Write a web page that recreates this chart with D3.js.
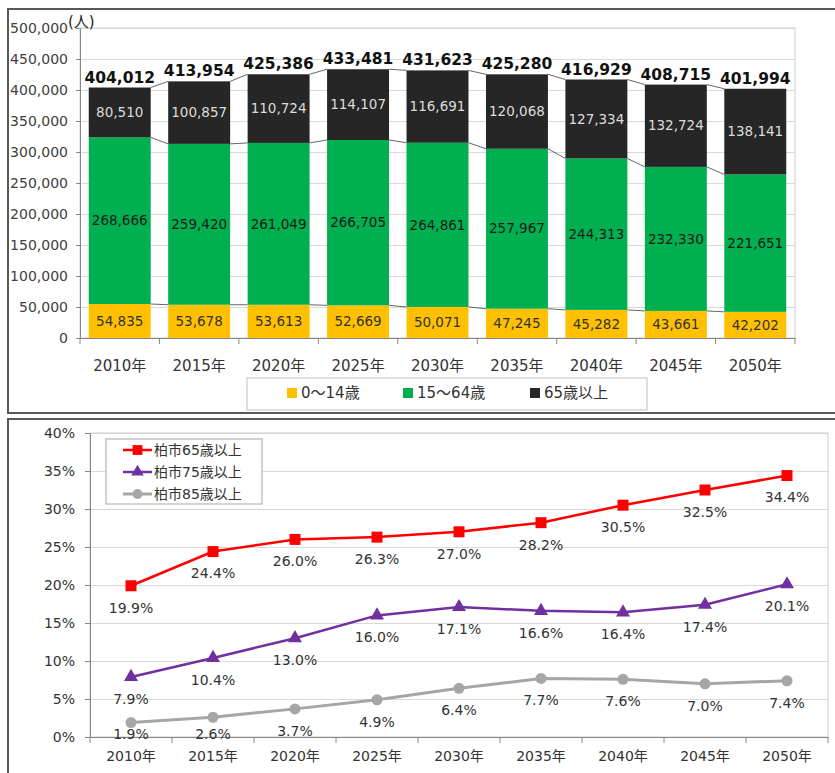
<!DOCTYPE html>
<html lang="ja">
  <head>
    <meta charset="UTF-8" />
    <title>柏市 人口推計</title>
    <script src="https://cdn.jsdelivr.net/npm/d3@7"></script>
    <style>
      body { margin: 0; background: #fff; }
      svg { display: block; font-family: "DejaVu Sans", "Noto Sans CJK JP", sans-serif; }
    </style>
  </head>
  <body>
    <svg width="835" height="773"></svg>
  </body>

  <script>
    // データ
    var years = ['2010年', '2015年', '2020年', '2025年', '2030年', '2035年', '2040年', '2045年', '2050年'];
    var age0_14 = [54835, 53678, 53613, 52669, 50071, 47245, 45282, 43661, 42202];
    var age15_64 = [268666, 259420, 261049, 266705, 264861, 257967, 244313, 232330, 221651];
    var age65 = [80510, 100857, 110724, 114107, 116691, 120068, 127334, 132724, 138141];
    var totals = [404012, 413954, 425386, 433481, 431623, 425280, 416929, 408715, 401994];
    var popTicks = [0, 50000, 100000, 150000, 200000, 250000, 300000, 350000, 400000, 450000, 500000];

    var rate65 = [19.9, 24.4, 26.0, 26.3, 27.0, 28.2, 30.5, 32.5, 34.4];
    var rate75 = [7.9, 10.4, 13.0, 16.0, 17.1, 16.6, 16.4, 17.4, 20.1];
    var rate85 = [1.9, 2.6, 3.7, 4.9, 6.4, 7.7, 7.6, 7.0, 7.4];
    var rateTicks = [0, 5, 10, 15, 20, 25, 30, 35, 40];

    var svg = d3.select('svg');

    // 軸のフォント指定を外す（svgのフォントを使う）
    function plainFont(g) {
      g.attr('font-family', null).attr('font-size', null);
    }

    // 外枠
    svg.append('rect').attr('x', 8).attr('y', 9).attr('width', 840).attr('height', 404)
      .attr('fill', 'none').attr('stroke', '#595959').attr('stroke-width', 2);
    svg.append('rect').attr('x', 8).attr('y', 419).attr('width', 840).attr('height', 380)
      .attr('fill', 'none').attr('stroke', '#595959').attr('stroke-width', 2);

    // ===== 上：積み上げ棒グラフ =====
    var x = d3.scaleBand().domain(years).range([80, 795]).paddingInner(0.22).paddingOuter(0.11);
    var y = d3.scaleLinear().domain([0, 500000]).range([338, 28]);

    // グリッド
    svg.append('g').attr('transform', 'translate(80,0)')
      .call(d3.axisLeft(y).tickValues(popTicks).tickSize(-715).tickFormat(''))
      .call(function (g) {
        g.select('.domain').remove();
        g.selectAll('line').attr('stroke', '#d9d9d9');
      });
    svg.append('rect').attr('x', 80).attr('y', 28).attr('width', 715).attr('height', 310)
      .attr('fill', 'none').attr('stroke', '#cfcfcf');

    // y軸
    svg.append('g').attr('transform', 'translate(80,0)')
      .call(d3.axisLeft(y).tickValues(popTicks).tickSize(4).tickPadding(8).tickFormat(d3.format(',')))
      .call(plainFont)
      .call(function (g) {
        g.select('.domain').attr('stroke', '#868686');
        g.selectAll('line').attr('stroke', '#868686');
        g.selectAll('text').attr('fill', '#404040').style('font-size', '14px');
      });
    svg.append('text').attr('x', 68).attr('y', 27).attr('fill', '#222')
      .style('font-size', '15px').text('(人)');

    var stackData = years.map(function (yr, i) {
      return { year: yr, a: age0_14[i], b: age15_64[i], c: age65[i] };
    });
    var series = d3.stack().keys(['a', 'b', 'c'])(stackData);
    var colors = { a: '#ffc000', b: '#00b050', c: '#262626' };
    var labelColors = { a: '#333', b: '#1a1a1a', c: '#dcdcdc' };

    // 系列線
    var step = x.step();
    series.forEach(function (s) {
      for (var i = 0; i < years.length - 1; i++) {
        svg.append('line')
          .attr('x1', x(years[i]) + x.bandwidth()).attr('y1', y(s[i][1]))
          .attr('x2', x(years[i + 1])).attr('y2', y(s[i + 1][1]))
          .attr('stroke', '#404040').attr('stroke-width', 0.8);
      }
    });

    var layers = svg.selectAll('g.layer').data(series).enter().append('g').attr('class', 'layer');
    layers.selectAll('rect').data(function (d) { return d; }).enter().append('rect')
      .attr('x', function (d) { return x(d.data.year); })
      .attr('y', function (d) { return y(d[1]); })
      .attr('width', x.bandwidth())
      .attr('height', function (d) { return y(d[0]) - y(d[1]); })
      .attr('fill', function (d, i, n) { return colors[d3.select(n[i].parentNode).datum().key]; });

    layers.each(function (s) {
      d3.select(this).selectAll('text').data(s).enter().append('text')
        .attr('x', function (d) { return x(d.data.year) + x.bandwidth() / 2; })
        .attr('y', function (d) { return (y(d[0]) + y(d[1])) / 2; })
        .attr('dy', '0.35em')
        .attr('text-anchor', 'middle')
        .attr('fill', labelColors[s.key])
        .style('font-size', '13.5px')
        .text(function (d) { return d3.format(',')(d.data[s.key]); });
    });

    // 合計
    svg.selectAll('text.total').data(totals).enter().append('text')
      .attr('class', 'total')
      .attr('x', function (d, i) { return x(years[i]) + x.bandwidth() / 2; })
      .attr('y', function (d, i) { return y(series[2][i][1]) - 5; })
      .attr('text-anchor', 'middle')
      .attr('fill', '#111')
      .style('font-size', '15.5px').style('font-weight', 'bold')
      .text(function (d) { return d3.format(',')(d); });

    // x軸
    svg.append('g').attr('transform', 'translate(0,338)')
      .call(d3.axisBottom(x).tickSize(0).tickPadding(22))
      .call(plainFont)
      .call(function (g) {
        g.select('.domain').attr('stroke', '#868686');
        g.selectAll('text').attr('fill', '#333').style('font-size', '15px');
      });
    d3.range(years.length + 1).forEach(function (i) {
      svg.append('line').attr('x1', 80 + i * step).attr('x2', 80 + i * step)
        .attr('y1', 338).attr('y2', 344).attr('stroke', '#868686');
    });

    // 凡例
    svg.append('rect').attr('x', 247).attr('y', 378).attr('width', 400).attr('height', 32)
      .attr('fill', '#fff').attr('stroke', '#bfbfbf');
    var legTop = [
      { key: 'a', label: '0～14歳', x: 287 },
      { key: 'b', label: '15～64歳', x: 403 },
      { key: 'c', label: '65歳以上', x: 530 }
    ];
    legTop.forEach(function (l) {
      svg.append('rect').attr('x', l.x).attr('y', 388).attr('width', 10).attr('height', 10)
        .attr('fill', colors[l.key]);
      svg.append('text').attr('x', l.x + 14).attr('y', 393).attr('dy', '0.35em')
        .attr('fill', '#333').style('font-size', '15px').text(l.label);
    });

    // ===== 下：折れ線グラフ =====
    var x2 = d3.scaleBand().domain(years).range([90, 828]).padding(0);
    var y2 = d3.scaleLinear().domain([0, 40]).range([737, 433]);
    var cx = function (i) { return x2(years[i]) + x2.bandwidth() / 2; };

    svg.append('g').attr('transform', 'translate(90,0)')
      .call(d3.axisLeft(y2).tickValues(rateTicks).tickSize(-738).tickFormat(''))
      .call(function (g) {
        g.select('.domain').remove();
        g.selectAll('line').attr('stroke', '#d9d9d9');
      });
    svg.append('rect').attr('x', 90).attr('y', 433).attr('width', 738).attr('height', 304)
      .attr('fill', 'none').attr('stroke', '#cfcfcf');

    svg.append('g').attr('transform', 'translate(90,0)')
      .call(d3.axisLeft(y2).tickValues(rateTicks).tickSize(5).tickPadding(10)
        .tickFormat(function (d) { return d + '%'; }))
      .call(plainFont)
      .call(function (g) {
        g.select('.domain').attr('stroke', '#868686');
        g.selectAll('line').attr('stroke', '#868686');
        g.selectAll('text').attr('fill', '#333').style('font-size', '14px');
      });

    svg.append('g').attr('transform', 'translate(0,737)')
      .call(d3.axisBottom(x2).tickSize(0).tickPadding(14))
      .call(plainFont)
      .call(function (g) {
        g.select('.domain').attr('stroke', '#868686');
        g.selectAll('text').attr('fill', '#333').style('font-size', '14px');
      });
    d3.range(years.length + 1).forEach(function (i) {
      svg.append('line').attr('x1', 90 + i * x2.step()).attr('x2', 90 + i * x2.step())
        .attr('y1', 737).attr('y2', 743).attr('stroke', '#868686');
    });

    var lineSeries = [
      { name: '柏市65歳以上', values: rate65, color: '#ff0000', width: 2.5, symbol: d3.symbolSquare, size: 121 },
      { name: '柏市75歳以上', values: rate75, color: '#7030a0', width: 2.5, symbol: d3.symbolTriangle, size: 85 },
      { name: '柏市85歳以上', values: rate85, color: '#a6a6a6', width: 3, symbol: d3.symbolCircle, size: 95 }
    ];
    var line = d3.line().x(function (d, i) { return cx(i); }).y(function (d) { return y2(d); });

    lineSeries.forEach(function (s) {
      svg.append('path').datum(s.values).attr('d', line)
        .attr('fill', 'none').attr('stroke', s.color).attr('stroke-width', s.width);
      svg.selectAll(null).data(s.values).enter().append('path')
        .attr('transform', function (d, i) { return 'translate(' + cx(i) + ',' + y2(d) + ')'; })
        .attr('d', d3.symbol().type(s.symbol).size(s.size))
        .attr('fill', s.color);
      svg.selectAll(null).data(s.values).enter().append('text')
        .attr('x', function (d, i) { return cx(i); })
        .attr('y', function (d) { return Math.min(y2(d) + 22, 734); })
        .attr('dy', '0.35em')
        .attr('text-anchor', 'middle')
        .attr('fill', '#333')
        .style('font-size', '14px')
        .text(function (d) { return d.toFixed(1) + '%'; });
    });

    // 凡例
    svg.append('rect').attr('x', 106).attr('y', 439).attr('width', 156).attr('height', 65)
      .attr('fill', '#fff').attr('stroke', '#a6a6a6');
    lineSeries.forEach(function (s, i) {
      var ly = 450 + i * 22;
      svg.append('line').attr('x1', 123).attr('x2', 152).attr('y1', ly).attr('y2', ly)
        .attr('stroke', s.color).attr('stroke-width', s.width);
      svg.append('path').attr('transform', 'translate(137.5,' + ly + ')')
        .attr('d', d3.symbol().type(s.symbol).size(s.size * 0.8)).attr('fill', s.color);
      svg.append('text').attr('x', 154).attr('y', ly).attr('dy', '0.35em')
        .attr('fill', '#333').style('font-size', '14px').text(s.name);
    });
  </script>
</html>
